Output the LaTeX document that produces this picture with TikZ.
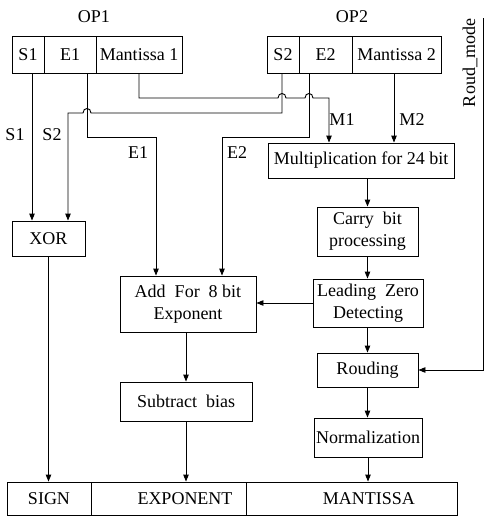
\documentclass[tikz,border=0pt]{standalone}
\usepackage{fontspec}
\setmainfont{Liberation Serif}
\usetikzlibrary{arrows.meta,calc}
\begin{document}
\begin{tikzpicture}[x=1pt,y=-1pt, line width=0.9pt,
  font=\fontsize{18}{22}\selectfont,
  box/.style={draw, rectangle, inner sep=0pt, align=center},
  arr/.style={-{Triangle[length=7pt,width=5.5pt]}},
  lbl/.style={inner sep=0pt}]
\useasboundingbox (0,0) rectangle (497,523);
% operand fields
\node[lbl] (op1) at (94,17) {OP1};
\node[lbl] (op2) at (352,17) {OP2};
\node[box, minimum width=32pt, minimum height=37pt] (s1f) at (28,54.5) {S1};
\node[box, minimum width=52pt, minimum height=37pt] (e1f) at (70,54.5) {E1};
\node[box, minimum width=86pt, minimum height=37pt] (m1f) at (139,54.5) {Mantissa 1};
\node[box, minimum width=32pt, minimum height=37pt] (s2f) at (283,54.5) {S2};
\node[box, minimum width=53pt, minimum height=37pt] (e2f) at (325.5,54.5) {E2};
\node[box, minimum width=89pt, minimum height=37pt] (m2f) at (396.5,54.5) {Mantissa 2};
% processing blocks
\node[box, minimum width=186pt, minimum height=35pt] (mult) at (361,160.5) {Multiplication for 24 bit};
\node[box, minimum width=101pt, minimum height=49pt] (carry) at (367.5,231.5) {Carry\ \ bit\\processing};
\node[box, minimum width=110pt, minimum height=48pt] (lzd) at (368,303) {Leading\ \ Zero\\Detecting};
\node[box, minimum width=101pt, minimum height=34pt] (round) at (367.5,370) {Rouding};
\node[box, minimum width=108pt, minimum height=39pt] (norm) at (368,437.5) {Normalization};
\node[box, minimum width=73pt, minimum height=35pt] (xor) at (48.5,238.5) {XOR};
\node[box, minimum width=136pt, minimum height=56pt] (add) at (188,304) {Add\ \ For\ \ 8 bit\\Exponent};
\node[box, minimum width=132pt, minimum height=39pt] (sub) at (186,401.5) {Subtract\ \ bias};
% result fields
\node[box, minimum width=84pt, minimum height=33pt] (sign) at (49,498.5) {SIGN};
\node[box, minimum width=155pt, minimum height=33pt] (expf) at (168.5,498.5) {};
\node[box, minimum width=211pt, minimum height=33pt] (manf) at (351.5,498.5) {};
\node[lbl] (expt) at (185,498.5) {EXPONENT};
\node[lbl] (mant) at (369,498.5) {MANTISSA};
% lane coordinates
\coordinate (s1x) at (32,0);
\coordinate (e1x) at (87,0);
\coordinate (s2x) at (282,0);
\coordinate (e2x) at (309,0);
\coordinate (m1x) at (139,0);
\coordinate (m2x) at (394,0);
\coordinate (hS) at (68,113);
\coordinate (hE1) at (156,137);
\coordinate (hE2) at (222,137);
\coordinate (hM) at (329,98);
\coordinate (rm) at (483,18);
% wire labels
\node[lbl] (ls1) at (15,135) {S1};
\node[lbl] (ls2) at (52,135) {S2};
\node[lbl] (le1) at (138,153) {E1};
\node[lbl] (le2) at (237,153) {E2};
\node[lbl] (lm1) at (342,120) {M1};
\node[lbl] (lm2) at (412,120) {M2};
\node[lbl, rotate=90] (lrm) at (470,63) {Roud\_mode};
% connectors
\draw[arr] (s1f.south -| s1x) -- (xor.north -| s1x);
\draw[arr] (s2f.south -| s2x) -- (s2x |- hS)
  -- ($(e1x |- hS)+(4,0)$) .. controls ($(e1x |- hS)+(4,-6)$) and ($(e1x |- hS)+(-4,-6)$) .. ($(e1x |- hS)+(-4,0)$)
  -- (hS) -- (xor.north -| hS);
\draw[arr] (e1f.south -| e1x) -- (e1x |- hE1) -- (hE1) -- (add.north -| hE1);
\draw[arr] (e2f.south -| e2x) -- (e2x |- hE2) -- (hE2) -- (add.north -| hE2);
\draw[arr] (m1f.south -| m1x) -- (m1x |- hM)
  -- ($(s2x |- hM)+(-4,0)$) .. controls ($(s2x |- hM)+(-4,-6)$) and ($(s2x |- hM)+(4,-6)$) .. ($(s2x |- hM)+(4,0)$)
  -- ($(e2x |- hM)+(-4,0)$) .. controls ($(e2x |- hM)+(-4,-6)$) and ($(e2x |- hM)+(4,-6)$) .. ($(e2x |- hM)+(4,0)$)
  -- (hM) -- (mult.north -| hM);
\draw[arr] (m2f.south -| m2x) -- (mult.north -| m2x);
\draw[arr] (mult.south -| carry) -- (carry.north);
\draw[arr] (carry.south) -- (lzd.north -| carry);
\draw[arr] (lzd.south -| round) -- (round.north);
\draw[arr] (round.south) -- (norm.north -| round);
\draw[arr] (norm.south) -- (manf.north -| norm);
\draw[arr] (lzd.west) -- (add.east |- lzd);
\draw[arr] (rm) -- (rm |- round) -- (round.east);
\draw[arr] (xor.south) -- (sign.north -| xor);
\draw[arr] (add.south -| sub) -- (sub.north);
\draw[arr] (sub.south) -- (expf.north -| sub);
\end{tikzpicture}
\end{document}
